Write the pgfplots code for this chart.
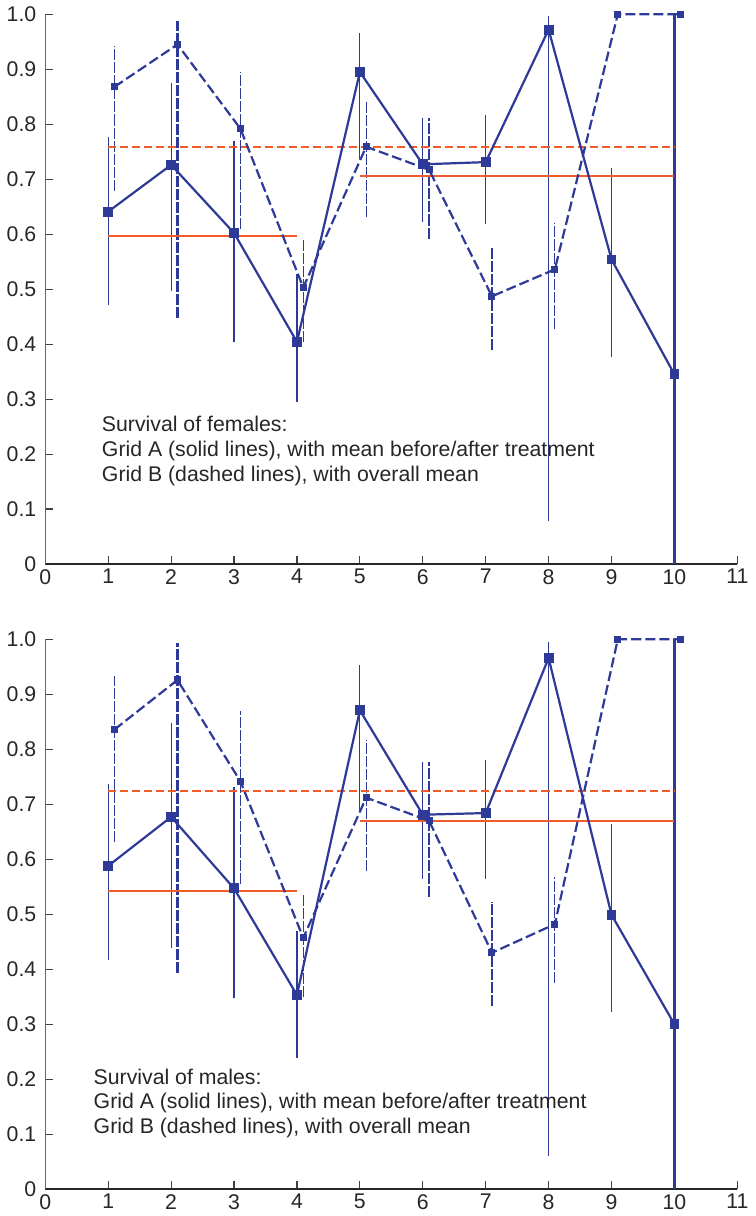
\documentclass[border=0pt]{standalone}
\usepackage{fontspec}
\setmainfont{Liberation Sans}
\usepackage{pgfplots}
\pgfplotsset{compat=1.18}
\definecolor{gridblue}{RGB}{46,58,151}
\definecolor{meanorange}{RGB}{241,90,41}

\pgfplotsset{
  survival/.style={
    scale only axis, width=345pt, height=274.15pt,
    xmin=0, xmax=11, ymin=0, ymax=1,
    axis x line=bottom, axis y line=left,
    axis line style={-, line width=0.7pt},
    x axis line style={black!85},
    y axis line style={black!60},
    xtick={0,1,2,3,4,5,6,7,8,9,10,11},
    xticklabels={0,1,2,3,4,5,6,7,8,9,10,11},
    ytick={0,0.1,0.2,0.3,0.4,0.5,0.6,0.7,0.8,0.9,1.0},
    yticklabels={0,0.1,0.2,0.3,0.4,0.5,0.6,0.7,0.8,0.9,1.0},
    tick align=inside, major tick length=4pt,
    tick style={line width=0.6pt, black!75},
    tick label style={font=\fontsize{10.6}{12}\selectfont, text=black!85},
    xticklabel style={yshift=1pt},
    yticklabel style={xshift=-1pt},
    clip=false, unbounded coords=jump,
  },
  barA/.style={gridblue, line width=0.6pt, forget plot},
  barB/.style={gridblue, line width=0.6pt, dash pattern=on 5.5pt off 1pt, forget plot},
  lineA/.style={gridblue, line width=1.1pt, mark=square*, mark size=1.9pt,
                mark options={fill=gridblue, solid}},
  lineB/.style={gridblue, line width=1.1pt, dash pattern=on 5pt off 2pt,
                mark=square*, mark size=1.2pt, mark options={fill=gridblue, solid}},
  meanA/.style={meanorange, line width=1pt, forget plot},
  meanB/.style={meanorange, line width=1pt, dash pattern=on 4pt off 2pt, forget plot},
}
\tikzset{
  note/.style={anchor=north west, align=left, inner sep=0pt, text=black!85,
               font=\fontsize{10.6}{12.4}\selectfont},
}

\begin{document}
\begin{tikzpicture}

  % ---------- females ----------
  \begin{axis}[survival, at={(0pt,0pt)}]
    % error bars, grid A
    \addplot[barA] coordinates {
      (1,0.472) (1,0.776) (1,nan)
      (2,0.497) (2,0.875) (2,nan)
      (3,0.404) (3,0.770) (3,nan)
      (4,0.294) (4,0.527) (4,nan)
      (5,0.737) (5,0.965) (5,nan)
      (6,0.622) (6,0.812) (6,nan)
      (7,0.618) (7,0.817) (7,nan)
      (8,0.079) (8,0.997) (8,nan)
      (9,0.376) (9,0.720)
    };
    \addplot[barA, line width=1.3pt] coordinates {(10,0) (10,1.0)};
    % error bars, grid B
    \addplot[barB] coordinates {
      (1.1,0.679) (1.1,0.942) (1.1,nan)
      (3.1,0.609) (3.1,0.895) (3.1,nan)
      (4.1,0.403) (4.1,0.592) (4.1,nan)
      (5.1,0.631) (5.1,0.843) (5.1,nan)
      (6.1,0.592) (6.1,0.812) (6.1,nan)
      (7.1,0.389) (7.1,0.578) (7.1,nan)
      (8.1,0.428) (8.1,0.620)
    };
    \addplot[barB, line width=1.3pt] coordinates {(2.1,0.448) (2.1,0.987)};

    % means
    \addplot[meanB] coordinates {(1,0.759) (10,0.759)};
    \addplot[meanA] coordinates {(1,0.596) (4,0.596)};
    \addplot[meanA] coordinates {(5,0.705) (10,0.705)};

    % grid A and grid B
    \addplot[lineA] coordinates {
      (1,0.641) (2,0.726) (3,0.602) (4,0.404) (5,0.895)
      (6,0.727) (7,0.731) (8,0.972) (9,0.554) (10,0.345)
    };
    \addplot[lineB] coordinates {
      (1.1,0.868) (2.1,0.945) (3.1,0.792) (4.1,0.503) (5.1,0.759)
      (6.1,0.717) (7.1,0.487) (8.1,0.536) (9.1,1.0) (10.1,1.0)
    };

    \node[note] at (axis cs:0.894,0.270)
      {Survival of females:\\
       Grid A (solid lines), with mean before/after treatment\\
       Grid B (dashed lines), with overall mean};
  \end{axis}

  % ---------- males ----------
  \begin{axis}[survival, at={(0pt,-311.65pt)}]
    \addplot[barA] coordinates {
      (1,0.417) (1,0.737) (1,nan)
      (2,0.439) (2,0.847) (2,nan)
      (3,0.347) (3,0.732) (3,nan)
      (4,0.238) (4,0.470) (4,nan)
      (5,0.689) (5,0.953) (5,nan)
      (6,0.565) (6,0.777) (6,nan)
      (7,0.565) (7,0.780) (7,nan)
      (8,0.061) (8,0.995) (8,nan)
      (9,0.323) (9,0.664)
    };
    \addplot[barA, line width=1.3pt] coordinates {(10,0) (10,1.0)};
    \addplot[barB] coordinates {
      (1.1,0.631) (1.1,0.933) (1.1,nan)
      (3.1,0.555) (3.1,0.870) (3.1,nan)
      (4.1,0.349) (4.1,0.537) (4.1,nan)
      (5.1,0.578) (5.1,0.816) (5.1,nan)
      (6.1,0.532) (6.1,0.777) (6.1,nan)
      (7.1,0.333) (7.1,0.523) (7.1,nan)
      (8.1,0.375) (8.1,0.567)
    };
    \addplot[barB, line width=1.3pt] coordinates {(2.1,0.393) (2.1,0.993)};

    \addplot[meanB] coordinates {(1,0.724) (10,0.724)};
    \addplot[meanA] coordinates {(1,0.543) (4,0.543)};
    \addplot[meanA] coordinates {(5,0.669) (10,0.669)};

    \addplot[lineA] coordinates {
      (1,0.588) (2,0.677) (3,0.547) (4,0.353) (5,0.871)
      (6,0.681) (7,0.684) (8,0.966) (9,0.499) (10,0.300)
    };
    \addplot[lineB] coordinates {
      (1.1,0.836) (2.1,0.926) (3.1,0.742) (4.1,0.457) (5.1,0.712)
      (6.1,0.670) (7.1,0.430) (8.1,0.482) (9.1,1.0) (10.1,1.0)
    };

    \node[note] at (axis cs:0.763,0.220)
      {Survival of males:\\
       Grid A (solid lines), with mean before/after treatment\\
       Grid B (dashed lines), with overall mean};
  \end{axis}

\end{tikzpicture}
\end{document}
